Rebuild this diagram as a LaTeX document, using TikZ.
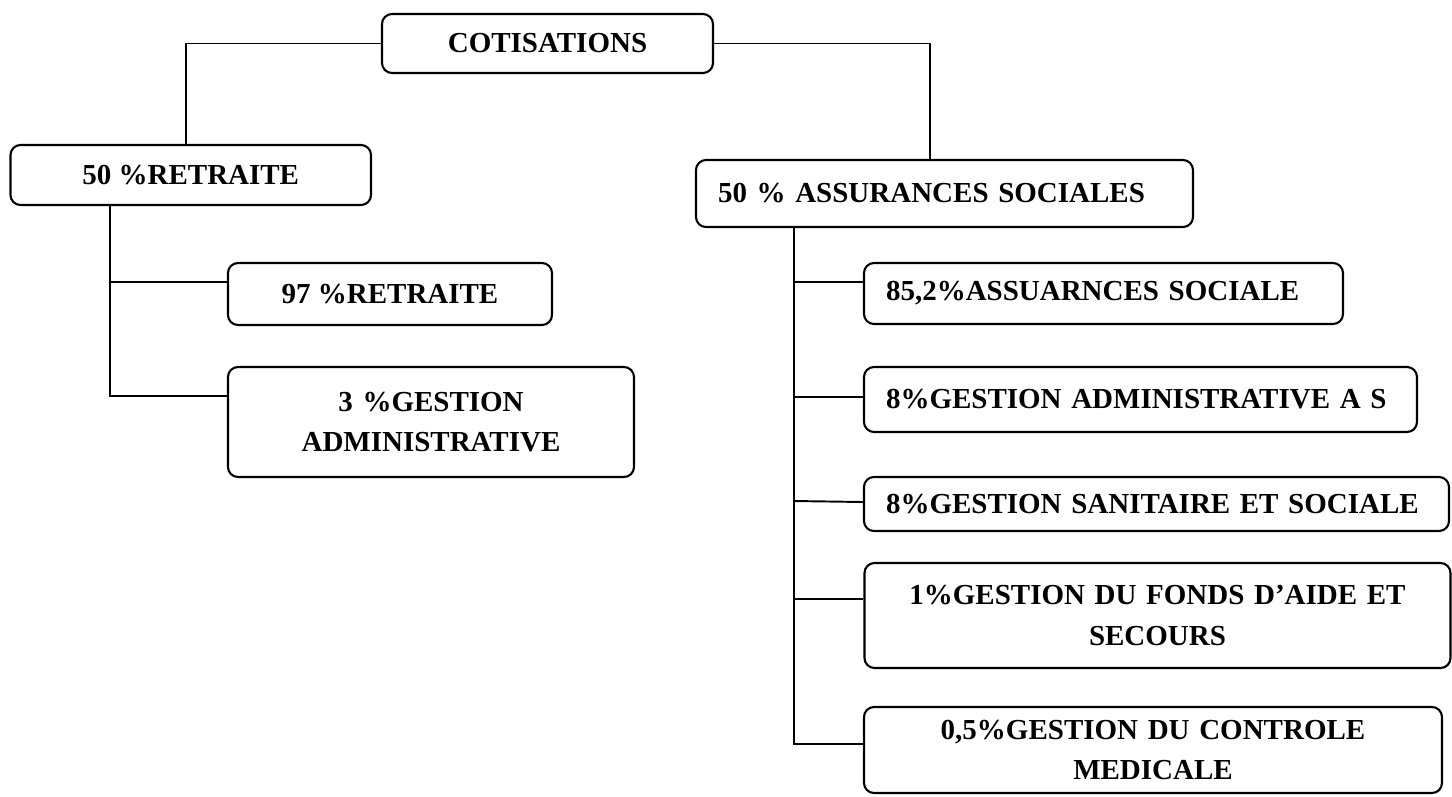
\documentclass[tikz,border=0pt]{standalone}
\usepackage{fontspec}
\setmainfont{Liberation Serif}
\usepackage{tikz}
\usetikzlibrary{positioning}
\tikzstyle{block} = [rectangle, draw, rounded corners=0.2cm, line width=1.2pt,
    inner sep=0pt, text centered, font=\fontsize{16.5}{22.8}\selectfont\bfseries]
\tikzstyle{lblock} = [block, inner xsep=0.44cm, align=left]
\tikzstyle{link} = [line width=1.1pt]

\begin{document}
\begin{tikzpicture}
\useasboundingbox (0,0) rectangle (29.04,-15.92);
% top level
\node[block, minimum width=6.62cm, minimum height=1.18cm] (cot) at (10.95,-0.87) {COTISATIONS};
\node[block, minimum width=7.21cm, minimum height=1.2cm] (ret) at (3.815,-3.5) {50 \%RETRAITE};
\node[lblock, text width=9.06cm, minimum height=1.34cm] (ass) at (18.89,-3.87) {50 \% ASSURANCES SOCIALES};
% retraite branch
\node[block, minimum width=6.48cm, minimum height=1.24cm] (r97) at (7.8,-5.88) {97 \%RETRAITE};
\node[block, text width=8.12cm, align=center, minimum height=2.2cm] (r3) at (8.62,-8.44) {3 \%GESTION\\ADMINISTRATIVE};
% assurances branch
\node[lblock, text width=8.7cm, minimum height=1.22cm] (a1) at (22.07,-5.87) {85,2\%ASSUARNCES SOCIALE};
\node[lblock, text width=10.18cm, minimum height=1.3cm] (a2) at (22.81,-7.99) {8\%GESTION ADMINISTRATIVE A S};
\node[lblock, text width=10.82cm, minimum height=1.08cm] (a3) at (23.13,-10.08) {8\%GESTION SANITAIRE ET SOCIALE};
\node[block, text width=11.72cm, align=center, minimum height=2.1cm] (a4) at (23.15,-12.31) {1\%GESTION DU FONDS D’AIDE ET\\SECOURS};
\node[block, text width=11.56cm, align=center, minimum height=1.72cm] (a5) at (23.06,-15.0) {0,5\%GESTION DU CONTROLE\\MEDICALE};
% connectors
\draw[link] (cot.west) -| ([xshift=-0.1cm]ret.north);
\draw[link] (cot.east) -| ([xshift=-0.29cm]ass.north);
\coordinate (rtop) at ([xshift=-1.62cm]ret.south);
\coordinate (r97in) at ([yshift=0.24cm]r97.west);
\coordinate (r3in) at ([yshift=0.52cm]r3.west);
\draw[link] (rtop) |- (r3in);
\draw[link] (rtop |- r97in) -- (r97in);
\coordinate (atop) at ([xshift=-3.01cm]ass.south);
\coordinate (a1in) at ([yshift=0.23cm]a1.west);
\coordinate (a2in) at ([yshift=0.05cm]a2.west);
\coordinate (a3in) at ([yshift=0.04cm]a3.west);
\coordinate (a4in) at ([yshift=0.33cm]a4.west);
\coordinate (a5in) at ([yshift=0.12cm]a5.west);
\draw[link] (atop) |- (a5in);
\draw[link] (atop |- a1in) -- (a1in);
\draw[link] (atop |- a2in) -- (a2in);
\draw[link] ([yshift=0.02cm]atop |- a3in) -- (a3in);
\draw[link] (atop |- a4in) -- (a4in);
\end{tikzpicture}
\end{document}
